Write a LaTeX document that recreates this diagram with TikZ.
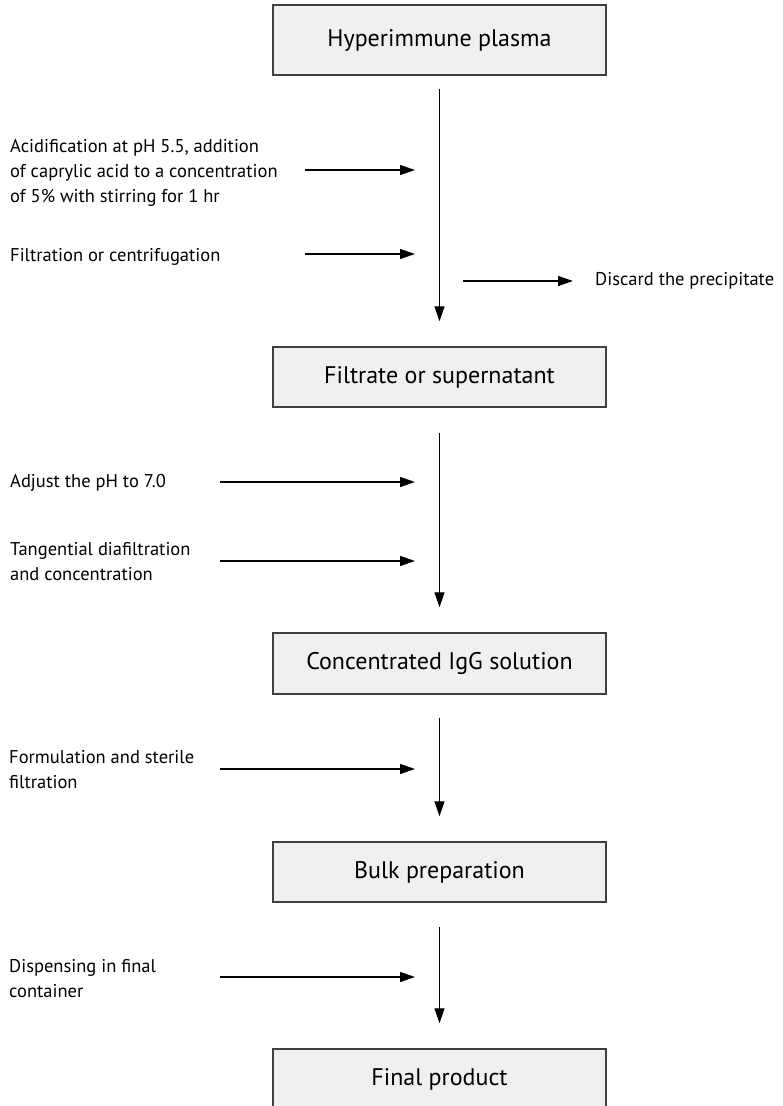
\documentclass[tikz,border=0pt]{standalone}
\usepackage{fontspec}
\setmainfont{PT Sans}
\usetikzlibrary{arrows.meta,positioning}

\begin{document}
\begin{tikzpicture}[x=1pt, y=-1pt, >={Triangle[length=15pt,width=10pt]},
  stepbox/.style={draw=black!75, line width=1.4pt, fill=black!6, minimum width=333pt,
    inner sep=0pt, font=\fontsize{24}{28}\selectfont},
  note/.style={anchor=west, align=left, inner sep=0pt, font=\fontsize{18.5}{25}\selectfont},
  flow/.style={->, line width=1.3pt}]
\useasboundingbox (0,0) rectangle (782,1106);
% etapas del proceso
\foreach \y/\h/\name/\lbl in {40/70/plasma/Hyperimmune plasma,
    377/60/filtrate/Filtrate or supernatant, 663.5/61/conc/Concentrated IgG solution,
    872/60/bulk/Bulk preparation, 1079/60/final/Final product}{
  \node[stepbox, minimum height=\h pt] (\name) at (439.5,\y) {\lbl};
}
\foreach \a/\b/\s in {plasma/filtrate/13, filtrate/conc/25, conc/bulk/23, bulk/final/24}
  \draw[flow] ([yshift=-\s pt]\a.south) -- ([yshift=25pt]\b.north);
% operaciones laterales
\node[note] (acid) at (10,173) {Acidification at pH 5.5, addition\\of caprylic acid to a concentration\\of 5\% with stirring for 1 hr};
\node[note] (filt) at (10,257) {Filtration or centrifugation};
\node[note] (adj) at (10,483) {Adjust the pH to 7.0};
\node[note] (tang) at (10,562) {Tangential diafiltration\\and concentration};
\node[note] (form) at (9,770) {Formulation and sterile\\filtration};
\node[note] (disp) at (9,979) {Dispensing in final\\container};
\foreach \n/\x/\y in {acid/305/170, filt/305/254, adj/220/482, tang/220/561,
    form/220/769, disp/220/977}{
  \coordinate (\n s) at (\x,\y);
  \coordinate (\n e) at (415,\y);
  \draw[flow] (\n s) -- (\n e);
}
% desecho
\node[note] (discard) at (595,281) {Discard the precipitate};
\coordinate (disc s) at (463,281);
\draw[flow, shorten >=22pt] (disc s) -- (discard.west);
\end{tikzpicture}
\end{document}
